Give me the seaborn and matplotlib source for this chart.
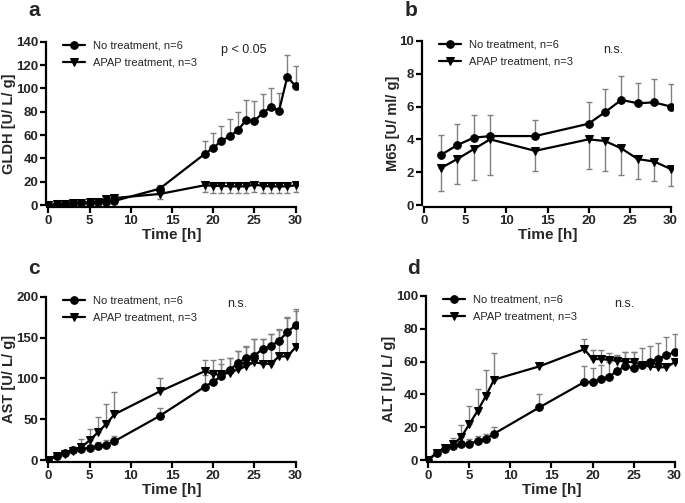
import pandas as pd
import seaborn as sns
import matplotlib.pyplot as plt

# ---- panel a: GLDH ----
t_a = [0, 1, 2, 3, 4, 5, 6, 7, 8, 13.5, 19, 20, 21, 22, 23, 24, 25, 26, 27, 28, 29, 30]
gldh_no = [0, 0.5, 1, 1.5, 2, 2, 3, 3, 3.5, 14, 44, 49, 55, 59, 64, 73, 72, 79, 84, 81, 110, 102]
gldh_no_err = [0, 0.3, 0.5, 0.5, 0.8, 1, 1.2, 1.5, 2, 3, 11, 13, 13, 15, 16, 17, 17, 16, 16, 15, 19, 17]
gldh_apap = [0, 0.5, 1, 1.5, 2, 2.5, 3, 5, 6, 9.5, 17, 16.5, 16.5, 16, 16, 16, 17.5, 16.5, 16, 16, 16, 17]
gldh_apap_err = [0, 0.3, 0.5, 0.5, 0.8, 1, 1.5, 2, 2.5, 4.5, 6, 6, 6, 6, 6, 6, 6, 6, 6, 6, 6, 6]

# ---- panel b: M65 ----
t_b = [2, 4, 6, 8, 13.5, 20, 22, 24, 26, 28, 30]
m65_no = [3.05, 3.65, 4.1, 4.2, 4.2, 4.95, 5.65, 6.4, 6.2, 6.25, 6.0]
m65_no_err = [1.2, 1.3, 1.4, 1.3, 1.0, 1.3, 1.4, 1.45, 1.25, 1.4, 1.35]
m65_apap = [2.25, 2.8, 3.4, 4.0, 3.3, 4.0, 3.9, 3.45, 2.8, 2.65, 2.2]
m65_apap_err = [1.4, 1.5, 1.9, 2.2, 1.25, 1.8, 1.85, 1.65, 1.2, 1.2, 1.05]

# ---- panel c: AST ----
t_c = t_a
ast_no = [0, 5, 9, 12, 14, 15, 17, 19, 23, 54, 90, 96, 103, 110, 119, 125, 128, 136, 140, 146, 157, 165]
ast_no_err = [0, 1, 2, 4, 4, 3, 5, 6, 7, 10, 14, 14, 15, 15, 15, 15, 20, 12, 14, 14, 18, 20]
ast_apap = [0, 5, 8, 11, 16, 24, 34, 44, 56, 84, 109, 105, 105, 107, 111, 115, 120, 118, 118, 127, 127, 138]
ast_apap_err = [0, 1, 2, 3, 10, 14, 19, 25, 27, 16, 14, 17, 19, 18, 22, 24, 28, 30, 36, 32, 47, 45]

# ---- panel d: ALT ----
t_d = t_a
alt_no = [0, 4.5, 7, 8.5, 9.5, 10, 11.5, 13, 16, 32, 47.5, 47.5, 49.5, 50.5, 54.5, 57, 56, 58, 60, 61.5, 64, 65.5]
alt_no_err = [0, 0.5, 1, 1.5, 2, 3, 3, 3, 4, 8, 9.5, 8.5, 8.5, 9, 9, 9, 10, 10, 9.5, 10, 11, 11.5]
alt_apap = [0, 4.5, 7.5, 9.5, 14, 22, 30, 39, 49, 57, 67.5, 61.5, 61.5, 61, 60.5, 60, 59.5, 58, 57, 56.5, 56.5, 59.5]
alt_apap_err = [0, 0.5, 1, 4, 7.5, 11, 13.5, 16, 16, 1.5, 6, 5.5, 5.5, 4, 3.5, 6, 6.5, 0, 0, 0, 0, 0]

LBL_NO = "No treatment, n=6"
LBL_APAP = "APAP treatment, n=3"

sns.set_theme(style="ticks")
plt.rcParams["font.family"] = ["Liberation Sans", "DejaVu Sans"]

W, H = 685, 503
fig = plt.figure(figsize=(W / 100, H / 100), dpi=100)


def px_axes(left, right, top, bottom):
    return fig.add_axes([left / W, 1 - bottom / H, (right - left) / W, (bottom - top) / H])


def panel(ax, t, no, no_err, apap, apap_err, apap_down, ymax, ystep, ylabel, note, note_xy):
    # error bars: no-treatment upward, APAP up or down
    ax.errorbar(t, no, yerr=[[0] * len(no), no_err], fmt="none", ecolor="0.5",
                elinewidth=1, capsize=2, capthick=1, zorder=1)
    if apap_down:
        ae = [apap_err, [0] * len(apap)]
    else:
        ae = [[0] * len(apap), apap_err]
    ax.errorbar(t, apap, yerr=ae, fmt="none", ecolor="0.5",
                elinewidth=1, capsize=2, capthick=1, zorder=1)

    df_no = pd.DataFrame({"t": t, "v": no})
    df_ap = pd.DataFrame({"t": t, "v": apap})
    sns.lineplot(data=df_no, x="t", y="v", ax=ax, color="black", linewidth=1.6,
                 marker="o", markersize=5.5, markeredgecolor="black", label=LBL_NO, zorder=3)
    sns.lineplot(data=df_ap, x="t", y="v", ax=ax, color="black", linewidth=1.6,
                 marker="v", markersize=5.5, markeredgecolor="black", label=LBL_APAP, zorder=3)

    ax.set_xticks(range(0, 31, 5))
    ax.set_yticks([i * ystep for i in range(int(round(ymax / ystep)) + 1)])
    ax.set_xlim(-0.3, 30.3)
    ax.set_ylim(-ymax * 0.012, ymax * 1.005)
    ax.spines["left"].set_bounds(0, ymax)
    ax.spines["bottom"].set_bounds(0, 30)
    sns.despine(ax=ax)
    for s in ("left", "bottom"):
        ax.spines[s].set_linewidth(1.6)
        ax.spines[s].set_color("black")
    ax.tick_params(width=1.6, length=4, labelsize=9.5, color="black", pad=1.5)
    for lb in ax.get_xticklabels() + ax.get_yticklabels():
        lb.set_fontweight("bold")
    ax.set_xlabel("Time [h]", fontsize=11, fontweight="bold", labelpad=1)
    ax.set_ylabel(ylabel, fontsize=10.5, fontweight="bold", labelpad=0)
    ax.legend(loc="upper left", bbox_to_anchor=(0.05, 1.03), frameon=False, fontsize=8,
              handlelength=2.0, handletextpad=0.7, labelspacing=0.65, borderaxespad=0)
    ax.text(note_xy[0], note_xy[1], note, fontsize=9, ha="left", va="center")


ax_a = px_axes(46, 298, 41, 207)
panel(ax_a, t_a, gldh_no, gldh_no_err, gldh_apap, gldh_apap_err, True,
      140, 20, "GLDH [U/ L/ g]", "p < 0.05", (21, 133))

ax_b = px_axes(422, 673, 40, 207)
panel(ax_b, t_b, m65_no, m65_no_err, m65_apap, m65_apap_err, True,
      10, 2, "M65 [U/ ml/ g]", "n.s.", (21.8, 9.45))

ax_c = px_axes(46, 298, 296, 462)
panel(ax_c, t_c, ast_no, ast_no_err, ast_apap, ast_apap_err, False,
      200, 50, "AST [U/ L/ g]", "n.s.", (21.7, 191))

ax_d = px_axes(426, 677, 295, 462)
panel(ax_d, t_d, alt_no, alt_no_err, alt_apap, alt_apap_err, False,
      100, 20, "ALT [U/ L/ g]", "n.s.", (22.6, 95))

for lab, x, y in [("a", 28, 11), ("b", 405, 10), ("c", 28, 268), ("d", 407, 268)]:
    fig.text(x / W, 1 - y / H, lab, fontsize=15, fontweight="bold", ha="left", va="center")

fig.savefig("out.png", dpi=100)
